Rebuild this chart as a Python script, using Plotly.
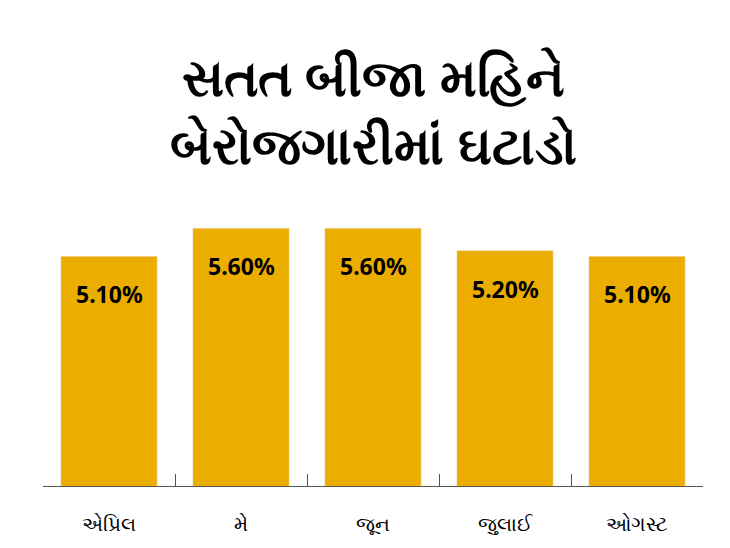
import plotly.graph_objects as go

months = ["એપ્રિલ", "મે", "જૂન", "જુલાઈ", "ઓગસ્ટ"]
rates = [5.10, 5.60, 5.60, 5.20, 5.10]
labels = ["5.10%", "5.60%", "5.60%", "5.20%", "5.10%"]

fig = go.Figure(go.Bar(x=months, y=rates, marker=dict(color="#EBAD00"), hoverinfo="skip"))
fig.update_layout(
    width=730, height=548, plot_bgcolor="white", paper_bgcolor="white",
    margin=dict(l=35, r=35, t=200, b=70, autoexpand=False), bargap=0.27, showlegend=False,
    font=dict(family="Noto Sans, DejaVu Sans", color="black"),
)
fig.update_yaxes(range=[1.0, 5.96], visible=False)
fig.update_xaxes(showline=True, linecolor="#555", linewidth=1, tickson="boundaries",
                 ticks="inside", ticklen=12, tickcolor="#555", automargin=False,
                 tickfont=dict(size=20, color="black"), ticklabelstandoff=20)
for m, v, t in zip(months, rates, labels):
    fig.add_annotation(x=m, y=v, text="<b>" + t + "</b>", showarrow=False, yanchor="top",
                       yshift=-20, font=dict(size=23, color="black"))
fig.add_annotation(text="<b>સતત બીજા મહિને<br>બેરોજગારીમાં ઘટાડો</b>", xref="paper", yref="paper",
                   x=0.5, y=1.0, yshift=170, yanchor="top", showarrow=False,
                   font=dict(size=52, color="black"), align="center")
fig.write_html("out.html")
